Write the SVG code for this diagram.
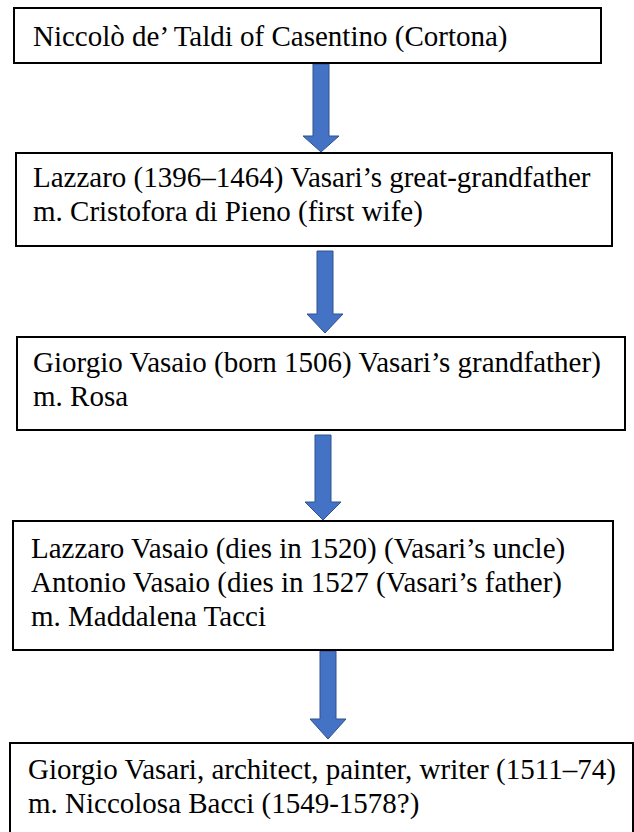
<svg xmlns="http://www.w3.org/2000/svg" width="634" height="832" viewBox="0 0 634 832">
<style>
.box{fill:#fff;stroke:#000;stroke-width:2}
.t{font-family:"Liberation Serif","Times New Roman",serif;font-size:29px;fill:#000}
.arr{fill:#4472C4;stroke:#2F528F;stroke-width:1}
</style>
<rect width="634" height="832" fill="#fff"/>
<g id="connectors">
<path class="arr" d="M313,64 H329 V136 H339 L321,152 L303,136 H313 Z"/>
<path class="arr" d="M317,251 H333 V314 H343 L325,333 L307,314 H317 Z"/>
<path class="arr" d="M315,435 H331 V502 H341 L323,520 L305,502 H315 Z"/>
<path class="arr" d="M320,651 H336 V719 H346 L328,739 L310,719 H320 Z"/>
</g>
<g id="n1">
<rect class="box" x="14" y="8" width="587" height="55"/>
<text class="t" x="33" y="46">Niccolò de’ Taldi of Casentino (Cortona)</text>
</g>
<g id="n2">
<rect class="box" x="16" y="153" width="596" height="93"/>
<text class="t" x="33" y="187">Lazzaro (1396–1464) Vasari’s great-grandfather</text>
<text class="t" x="33" y="221">m. Cristofora di Pieno (first wife)</text>
</g>
<g id="n3">
<rect class="box" x="17" y="337" width="608" height="93"/>
<text class="t" x="33" y="372">Giorgio Vasaio (born 1506) Vasari’s grandfather)</text>
<text class="t" x="33" y="406">m. Rosa</text>
</g>
<g id="n4">
<rect class="box" x="13" y="521" width="600" height="129"/>
<text class="t" x="31" y="558">Lazzaro Vasaio (dies in 1520) (Vasari’s uncle)</text>
<text class="t" x="31" y="592">Antonio Vasaio (dies in 1527 (Vasari’s father)</text>
<text class="t" x="31" y="626">m. Maddalena Tacci</text>
</g>
<g id="n5">
<rect class="box" x="10" y="743" width="623" height="100"/>
<text class="t" x="28" y="779">Giorgio Vasari, architect, painter, writer (1511–74)</text>
<text class="t" x="28" y="813">m. Niccolosa Bacci (1549-1578?)</text>
</g>
</svg>
